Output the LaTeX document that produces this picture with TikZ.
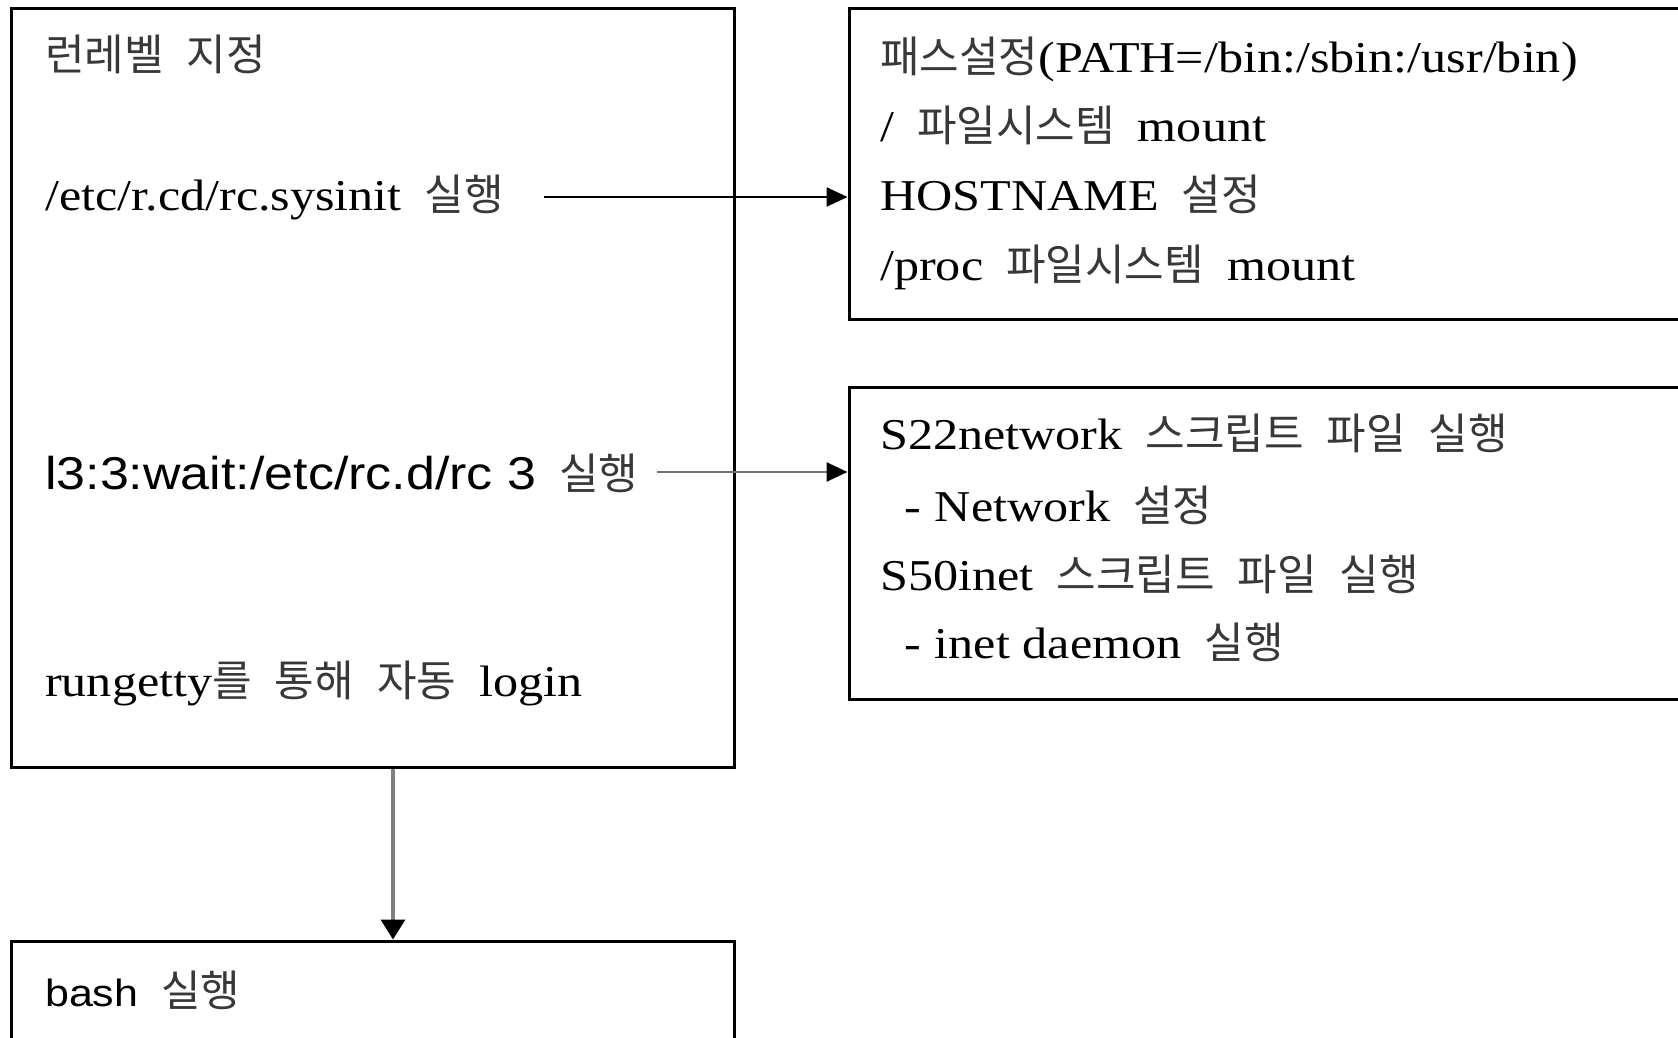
\documentclass[tikz,border=0pt]{standalone}
\usepackage{fontspec}
\setmainfont{Liberation Serif}[FakeStretch=1.14]
\newfontfamily\kr{Noto Sans CJK KR}
\newfontfamily\sansf{Liberation Sans}[FakeStretch=1.13]
\usetikzlibrary{arrows.meta}
\newcommand\K[1]{{\kr\fontsize{43}{46}\selectfont\color{black!78}#1}}
\newcommand\ks{\hspace{23pt}}
\begin{document}
\begin{tikzpicture}[x=1pt,y=-1pt,
  box/.style={draw, line width=3pt, inner sep=0pt},
  ser/.style={anchor=base west, inner sep=0pt, font=\fontsize{44}{50}\selectfont},
  san/.style={anchor=base west, inner sep=0pt, font=\sansf\fontsize{46}{50}\selectfont},
  arr/.style={line width=2.5pt, -{Triangle[length=21pt,width=19pt,color=black]}},
  darr/.style={line width=3.5pt, draw=black!50, -{Triangle[length=20pt,width=24pt,color=black]}}]
\clip (0,0) rectangle (1678,1038);
\fill[white] (0,0) rectangle (1678,1038);
% boxes
\node[box, minimum width=723pt, minimum height=758pt] (lbox) at (372.5,388) {};
\node[box, minimum width=851pt, minimum height=310pt] (trbox) at (1274.5,164) {};
\node[box, minimum width=851pt, minimum height=312pt] (mrbox) at (1274.5,543) {};
\node[box, minimum width=723pt, minimum height=129pt] (bashbox) at (372.5,1005.5) {};
% left texts
\node[ser] (t1) at (45,71) {\K{런레벨}\ks\K{지정}};
\node[ser] (t2) at (45,210) {/etc/r.cd/rc.sysinit\ks\K{실행}};
\node[san] (t3) at (45,489) {l3:3:wait:/etc/rc.d/rc 3\ks\K{실행}};
\node[ser] (t4) at (45,696) {rungetty\K{를}\ks\K{통해}\ks\K{자동}\ks login};
\node[san, font=\sansf\fontsize{38}{44}\selectfont] (t5) at (45,1006) {bash\ks\K{실행}};
% top right texts
\node[ser] (r1) at (880,73) {\K{패스설정}(PATH=/bin:/sbin:/usr/bin)};
\node[ser] (r2) at (880,142) {/\ks\K{파일시스템}\ks mount};
\node[ser] (r3) at (880,210) {HOSTNAME\ks\K{설정}};
\node[ser] (r4) at (880,280) {/proc\ks\K{파일시스템}\ks mount};
% middle right texts
\node[ser] (m1) at (880,449) {S22network\ks\K{스크립트}\ks\K{파일}\ks\K{실행}};
\node[ser] (m2) at (904,521) {-\hspace{14pt}Network\ks\K{설정}};
\node[ser] (m3) at (880,590) {S50inet\ks\K{스크립트}\ks\K{파일}\ks\K{실행}};
\node[ser] (m4) at (904,658) {-\hspace{14pt}inet daemon\ks\K{실행}};
% connectors
\coordinate (a1) at (544,197);
\coordinate (a2) at (657,472);
\coordinate (d1) at (393,0);
\draw[arr] (a1) -- (trbox.west |- a1);
\draw[arr, draw=black!55] (a2) -- (mrbox.west |- a2);
\draw[darr] (lbox.south -| d1) -- (bashbox.north -| d1);
\end{tikzpicture}
\end{document}
